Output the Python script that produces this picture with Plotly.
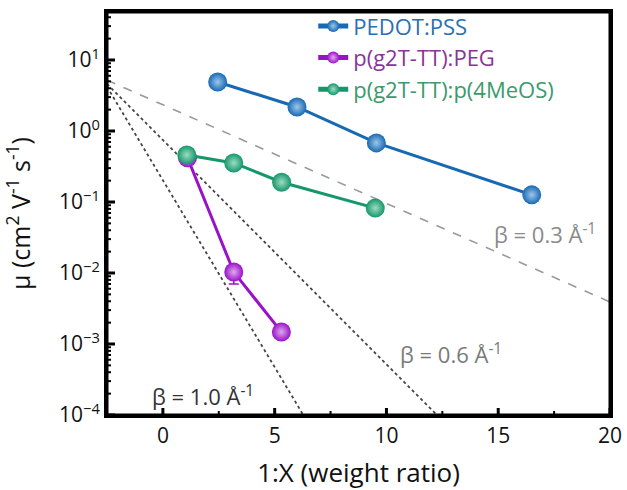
import plotly.graph_objects as go

# ---- data ----
pedot_x = [2.45, 6.0, 9.55, 16.5]
pedot_y = [4.9, 2.18, 0.68, 0.126]

peg_x = [1.1, 3.17, 5.3]
peg_y = [0.42, 0.0103, 0.00148]
peg_err_minus = [0.0, 0.0033, 0.0]

meos_x = [1.07, 3.17, 5.31, 9.5]
meos_y = [0.46, 0.355, 0.19, 0.082]

# reference decay lines (x endpoints, y endpoints)
beta03_x = [-2.5, 20.0]
beta03_y = [5.2, 0.0039]
beta06_x = [-2.5, 12.26]
beta06_y = [4.6, 1e-4]
beta10_x = [-2.5, 6.28]
beta10_y = [4.2, 1e-4]

beta_labels = ["β = 0.3 Å<sup>-1</sup>", "β = 0.6 Å<sup>-1</sup>", "β = 1.0 Å<sup>-1</sup>"]
beta_label_x = [17.1, 12.9, 1.8]
beta_label_logy = [-1.44, -3.13, -3.72]
beta_label_colors = ["#8a8a8a", "#7a7a7a", "#333333"]

x_range = [-2.5, 20]
y_range_log = [-4, 1.676]
y_tickvals = [1e-4, 1e-3, 1e-2, 1e-1, 1e0, 1e1]
y_ticktext = ["10<sup>−4</sup>", "10<sup>−3</sup>", "10<sup>−2</sup>",
              "10<sup>−1</sup>", "10<sup>0</sup>", "10<sup>1</sup>"]
x_tickvals = [0, 5, 10, 15, 20]
x_minorvals = [2.5, 7.5, 12.5, 17.5]
y_minorvals = [m * 10.0 ** e for e in range(-4, 2) for m in range(2, 10)
               if m * 10.0 ** e < 10 ** y_range_log[1]]

BLUE = "#1769b3"
PURPLE = "#9a12c6"
GREEN = "#14976a"
FONT = "Open Sans"

fig = go.Figure()

fig.add_trace(go.Scatter(x=beta03_x, y=beta03_y, mode="lines", showlegend=False,
                         line=dict(color="#9a9a9a", width=1.6, dash="dash")))
fig.add_trace(go.Scatter(x=beta06_x, y=beta06_y, mode="lines", showlegend=False,
                         line=dict(color="#444444", width=1.8, dash="dot")))
fig.add_trace(go.Scatter(x=beta10_x, y=beta10_y, mode="lines", showlegend=False,
                         line=dict(color="#444444", width=1.8, dash="dot")))


def sphere(c, hi):
    return dict(color=c, size=19, gradient=dict(type="radial", color=hi))


fig.add_trace(go.Scatter(
    x=pedot_x, y=pedot_y, mode="lines+markers",
    name="<span style='color:#2a6fb0'>PEDOT:PSS</span>",
    line=dict(color=BLUE, width=3), marker=sphere(BLUE, "#9ec6ea")))
fig.add_trace(go.Scatter(
    x=peg_x, y=peg_y, mode="lines+markers",
    name="<span style='color:#8a3596'>p(g2T-TT):PEG</span>",
    line=dict(color=PURPLE, width=3), marker=sphere(PURPLE, "#dea8f0"),
    error_y=dict(type="data", symmetric=False, array=[0, 0, 0],
                 arrayminus=peg_err_minus, color=PURPLE, thickness=1.5, width=5)))
fig.add_trace(go.Scatter(
    x=meos_x, y=meos_y, mode="lines+markers",
    name="<span style='color:#3b9a6c'>p(g2T-TT):p(4MeOS)</span>",
    line=dict(color=GREEN, width=3), marker=sphere(GREEN, "#9edcc2")))

for txt, bx, by, bc in zip(beta_labels, beta_label_x, beta_label_logy, beta_label_colors):
    fig.add_annotation(x=bx, y=by, xref="x", yref="y", text=txt, showarrow=False,
                       font=dict(family=FONT, size=22, color=bc))

# inward tick marks as pixel-sized shapes anchored on the axes
for v in x_tickvals:
    fig.add_shape(type="line", xref="x", x0=v, x1=v, yref="paper", ysizemode="pixel",
                  yanchor=0, y0=0, y1=7, line=dict(color="black", width=3), layer="above")
for v in x_minorvals:
    fig.add_shape(type="line", xref="x", x0=v, x1=v, yref="paper", ysizemode="pixel",
                  yanchor=0, y0=0, y1=4, line=dict(color="black", width=2), layer="above")
for v in y_tickvals:
    fig.add_shape(type="line", yref="y", y0=v, y1=v, xref="paper", xsizemode="pixel",
                  xanchor=0, x0=0, x1=8, line=dict(color="black", width=3), layer="above")
for v in y_minorvals:
    fig.add_shape(type="line", yref="y", y0=v, y1=v, xref="paper", xsizemode="pixel",
                  xanchor=0, x0=0, x1=4, line=dict(color="black", width=2), layer="above")

fig.update_layout(
    width=627, height=490,
    margin=dict(l=107, r=17, t=12, b=75, autoexpand=False),
    paper_bgcolor="white", plot_bgcolor="white",
    font=dict(family=FONT, size=20, color="#111111"),
    legend=dict(x=0.41, y=1.017, xanchor="left", yanchor="top",
                bgcolor="rgba(0,0,0,0)", font=dict(family=FONT, size=22),
                itemsizing="constant", tracegroupgap=0),
    xaxis=dict(
        range=x_range, tickmode="array", tickvals=x_tickvals,
        ticks="", showline=True, linewidth=3, linecolor="black", mirror=True,
        showgrid=False, zeroline=False, automargin=False,
        ticklabeloverflow="allow",
        tickfont=dict(size=21),
        title=dict(text="1:X (weight ratio)", font=dict(size=26), standoff=22),
    ),
    yaxis=dict(
        type="log", range=y_range_log,
        tickmode="array", tickvals=y_tickvals, ticktext=y_ticktext,
        ticks="", showline=True, linewidth=3, linecolor="black", mirror=True,
        showgrid=False, zeroline=False, automargin=False,
        tickfont=dict(size=21),
        title=dict(text="μ (cm<sup>2</sup> V<sup>-1</sup> s<sup>-1</sup>)", font=dict(size=25),
                   standoff=24),
    ),
)

# plot frame
fig.add_shape(type="rect", xref="paper", yref="paper", x0=0, y0=0, x1=1, y1=1,
              line=dict(color="black", width=3), layer="above")

fig.write_html("out.html",
               config={"displayModeBar": False, "staticPlot": True},
               post_script="document.body.style.margin='0px';"
                           "document.body.style.overflow='hidden';")
